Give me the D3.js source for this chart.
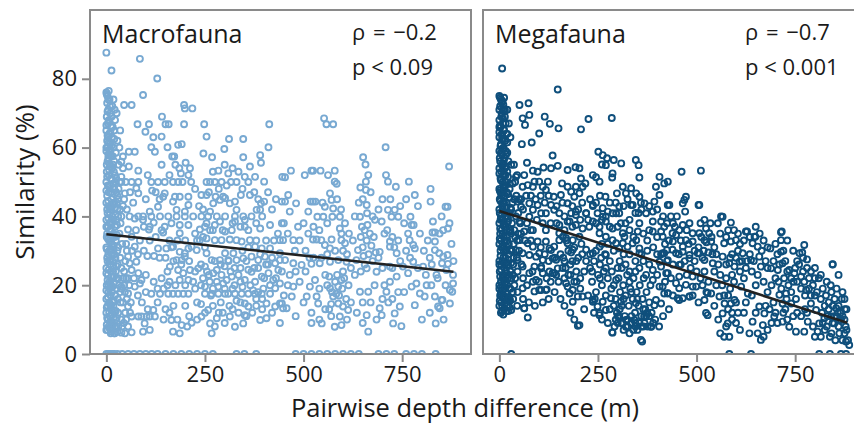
<!DOCTYPE html>
<html>
<head>
<meta charset="utf-8">
<script src="https://cdn.jsdelivr.net/npm/d3@7"></script>
<style>
  html, body { margin: 0; padding: 0; background: #fff; }
  svg { display: block; font-family: 'Open Sans', sans-serif; }
</style>
</head>
<body>
<svg id="chart" width="854" height="427"></svg>
<script>
// x: pairwise depth difference (m), y: similarity (%)
const xTicks = [0, 250, 500, 750];
const yTicks = [0, 20, 40, 60, 80];

// --- Macrofauna ---
const macroColumn = [
  [0,76],[3,75],[6,76.5],[2,73],[8,74],[5,71],[1,69],[10,70],[4,67],[12,66],[0,65],[7,64],[14,63],[2,62],[9,61],
  [18,60],[0,59],[5,58],[12,57.5],[3,56],[20,56],[8,55],[15,54],[1,53],[6,52],[22,52],[11,51],[0,50],[17,49.5],
  [4,49],[9,48],[25,47],[2,46],[13,45],[0,44],[19,44],[6,43],[10,42],[3,41],[23,40.5],[15,40],[0,39],[8,38],
  [27,37.5],[4,37],[12,36],[18,35],[1,34],[7,33],[24,33],[14,32],[0,31],[10,30],[5,29],[20,29],[2,28],[16,27],
  [9,26],[26,25.5],[0,25],[12,24],[4,23],[20,22.5],[8,21],[1,20],[15,19.5],[26,19],[5,18],[11,17],[0,16],
  [19,15.5],[7,15],[3,14],[14,13],[24,12.5],[0,12],[9,11],[18,10.5],[4,10],[13,9],[1,8.5],[22,8],[8,7.5],[16,7],
  [3,7],[28,6.5],[11,6],[6,68],[15,72],[3,60],[10,58],[6,47],[14,38],[2,35],[8,27],[17,24],[10,14],[5,63],
  [12,43],[20,65],[6,20],[30,45],[28,30],[32,20],[30,12],[35,28],[35,18],[42,15],[38,10],[48,12],[30,22],
  [45,20],[52,16],[40,8],[50,22],
  [1,75.5],[5,74],[9,72],[3,70.5],[13,69],[7,67.5],[0,66.5],[16,66],[10,64.5],[3,63.5],[20,62.5],[6,61.5],
  [13,60.5],[0,60],[9,59.5],[24,58.5],[16,57.5],[5,57],[1,55],[11,54.5],[19,53],[7,53.5],[25,51],[14,50.5],
  [2,51.5],[8,49],[20,48],[0,47.5],[12,47],[28,46],[5,44.5],[16,43.5],[22,42.5],[2,42],[9,41],[30,40],[17,39],
  [5,39.5],[12,38.5],[0,37],[22,37],[8,36],[15,34.5],[27,34.5],[4,33.5],[11,32.5],[19,31.5],[1,30.5],[30,31],
  [7,30],[14,29],[23,28],[3,27],[10,27],[18,25.5],[0,23.5],[6,24.5],[13,22.5],[25,22],[3,21.5],[10,20.5],
  [19,20.5],[0,18.5],[8,19],[14,18],[22,17],[4,16.5],[29,16],[16,15],[10,14.5],[1,13.5],[20,12.5],[7,12],
  [13,11.5],[26,10.5],[2,10.5],[10,9.5],[17,8.5],[6,8],[0,7],[25,7.5],[13,6.5],[20,6],[36,38],[34,50],[38,25],
  [33,60],[40,32],[36,15],[42,43],[44,22],[31,55],[35,65],[26,70],[18,74],[22,68],[28,62],[31,48],[35,42],
  [29,26],[33,35],[39,19],[44,9],[50,10],[55,8],[60,12],[58,20],[62,15],[48,27],[52,30],[42,54],[47,18],
  [20,44],[25,39],[28,42],[21,71],[17,55],[24,50],[26,44],[21,34],[16,30],[24,24],[12,20],[18,14],[23,10]
];

const macroLeft = [
  [0,87.6],[85,85.8],[13,82.4],[129,80.1],[93,75.3],[45,72.4],[64,72.4],[197,72.4],[199,71.4],[218,71.4],
  [141,69],[79,66.8],[108,66.8],[150,66.8],[158,66.8],[197,66.8],[248,66.8],[413,66.8],[99,64.6],[119,63],
  [140,63.2],[254,63.2],[311,62.5],[347,62.5],[411,60.1],[114,60.1],[123,58.8],[155,60.1],[182,60.8],[191,61],
  [299,59.6],[57,58.8],[72,58.8],[246,58.3],[167,57.4],[172,57.4],[268,57.2],[347,57.2],[390,57.8],[42,57.4],
  [38,55.9],[201,55.6],[392,55.6],[57,54.5],[364,54.5],[212,54],[284,53.3],[208,52],[189,52.5],[81,53.3],
  [309,52.5],[351,51.5],[377,51.5],[400,50.1],[446,51.5],
  [38,50],[49,50],[64,50],[81,50],[114,50],[131,50],[148,50],[169,50],[182,50],[193,50],[254,50],[263,50],
  [275,50],[292,50],[316,50],[330,50],
  [38,51.5],[47,46.7],[76,48.2],[81,46.7],[116,47.5],[148,46.7],[144,45.7],[174,45.7],[186,45.7],[208,45.7],
  [241,46.2],[254,46.2],[277,45.7],[296,45.7],[313,43.8],[341,46.2],[364,46.2],[392,43.8],[400,44.3],[445,44.3],
  [271,43.8],[288,44.8],[301,45.3],[326,44.3],[169,44.3],[208,43.3],
  [38,40],[59,40],[81,40],[93,40],[114,40],[136,40],[157,40],[178,40],[199,40],[220,40],[241,40],[258,40],
  [280,40],[301,40],[326,40],[347,40],[368,40],
  [131,42.8],[110,41.4],[178,41.9],[199,41.4],[263,41.4],[330,41.9],[381,41.9],[390,41.9],[351,39],[415,37.5],
  [326,38.5],[288,38.5],[275,37.5],[254,38],[208,37.5],[186,37.5],[165,38],[148,37],[120,38.2],[110,37],[93,39],
  [72,39.4],[55,36.2],[108,36.2],[144,35.3],[186,35.1],[237,36.2],[250,37],[263,36],[301,35.6],[318,36],[351,37],
  [390,36.5],[445,38],
  [237,33.1],[254,33.6],[275,33.1],[292,33.1],[313,33.3],[330,33.1],[343,32.7],[364,33.1],[377,31.2],[394,30.7],
  [415,30.7],[440,33.1],[64,34.1],[72,31.2],[131,30.7],[152,30.7],[169,31.2],[186,29.7],[199,28.3],[208,30.7],
  [216,31.2],[229,30.2],[104,28.5],[121,28.5],[55,28.3],[59,26.4],[76,26.8],[178,27.3],[191,27.3],[199,29.3],
  [254,29.3],[267,27.3],[288,27.3],[301,29.3],[309,27.3],[322,29.3],[330,27.3],[347,27.8],[368,28.3],[385,27.3],
  [402,28.3],[428,26.4],[440,27.3],
  [64,24.4],[81,23.5],[89,21.5],[72,19.6],[161,25.4],[182,24.4],[195,23.5],[212,24.4],[233,24.9],[186,21.5],
  [208,21.5],[250,25.4],[271,23.5],[280,24.4],[292,23],[305,21.5],[296,20.5],[318,22.5],[335,23],[351,21.5],
  [368,23.9],[377,21],[394,22.5],[411,23.5],[423,21.5],[436,24.4],[440,20.5],
  [114,17.5],[136,17.5],[157,17.5],[169,17.5],[182,17.5],[195,17.5],[208,17.5],[250,17.5],[267,17.5],[284,17.5],
  [301,17.5],[309,17.5],[326,17.5],[343,17.5],[360,17.5],[377,17.5],[394,17.5],[415,17.5],
  [38,19.6],[55,17.6],[85,20.5],[250,19.6],[284,19.6],[351,14.7],[360,13.8],[406,14.7],[428,13.8],[445,14.7],
  [428,19.1],
  [64,10.9],[81,10.9],[89,10.9],[102,10.9],[110,10.9],[123,10.9],[165,9.9],[169,6.5],[186,6],[191,8.4],[216,9.1],
  [241,10.9],[258,12.8],[263,8.9],[267,6],[280,10.4],[313,10.9],[326,7.9],[347,8.9],[351,11.3],[390,9.9],
  [406,10.4],[93,6.5],[110,7],[55,13.8],[119,12.8],[97,8.9],[30,7.9],[21,6],[38,6.2],[47,6],[64,6.3],
  [255,24],[262,21],[270,19],[245,22],[300,25.5],[315,24],[325,20],[340,25],[345,19.5],[360,24.5],[372,18.5],
  [385,25],[398,19],[405,26],[330,15.5],[312,14],[290,15],[270,14],[240,14.5],[225,19],[230,15],[160,21],
  [140,22],[120,21],[100,23],[170,14],[150,13],[200,14],[210,11],[285,12],[300,9],[335,12],[370,12],[380,16],
  [395,13],
  [45,45],[52,42],[60,47],[68,44],[75,36],[85,33],[95,37],[100,45],[105,52],[125,47],[135,45],[140,55],[160,52],
  [175,55],[185,54],[215,50],[225,48],[235,43],[245,42],[260,47],[270,53],[285,48],[300,55],[305,49],[320,54],
  [335,53],[345,48],[360,50],[375,47],[385,45],[410,47],[420,42],[430,45],[435,35],[425,33],[405,33],[395,40],
  [380,38],[360,36],[340,37],[320,38],[295,36],[270,36],[245,34],[225,35],[200,33],[180,33],[160,33],[140,36],
  [125,34],[110,33],[95,30],[80,29],[65,30],[50,32],[45,24],[55,22],[70,22],[80,17],[90,15],[100,18],[105,13],
  [130,15],[145,19],[155,24],[170,27],[190,26],[210,27],[225,24],[240,26],[260,23],[275,27],[290,26],[310,27],
  [325,25],[355,27],[375,25],[390,29],[410,26],[420,28],[430,22],[415,20],[400,22],[385,18],[365,20],[340,21],
  [320,19],[300,19],[280,21],[265,17],[240,20],[220,21],[200,20],[175,20],[155,20],[130,19],[145,10],[160,12],
  [180,10],[205,8],[230,10],[250,12],[275,8],[295,12],[320,13],[340,15],[355,11],[380,14],[395,16],[420,12],
  [440,9],[345,30],[360,31],[380,33],[250,31],[230,33],[165,31],[150,28],[135,28]
];

const macroRight = [
  [552,68.5],[558,66.8],[575,66.8],[708,60.1],[651,57.2],[657,55.1],[869,54.5],[468,53.3],[453,51.4],[503,52],
  [520,53.3],[524,53.3],[543,53.3],[562,52],[579,53.3],[579,50.1],[584,49.5],[664,52],[658,50.1],[644,48.4],
  [658,47.7],[709,52],[714,50.1],[734,48.6],[767,50.1],[782,46.2],[822,48],[822,44.3],[860,42.8],[865,42.8],
  [461,46.2],[481,43.8],[453,44.3],[465,41.4],[518,44.3],[524,44.3],[530,44.3],[554,42.8],[575,42.3],[571,44.8],
  [567,46.7],[512,41.4],[535,39.9],[550,39.9],[573,39.9],[592,39.9],[643,39.9],[660,43.3],[661,40.9],[681,39],
  [698,38.5],[714,41.9],[723,39.9],[740,39.9],[731,41.9],[720,45],[771,39.9],[774,37.5],[779,37.5],[828,38.5],
  [854,36],[866,36.5],[827,35.3],[833,35.3],[833,32.7],
  [645,34],[650,31],[655,36],[660,33],[665,29],[668,35],[672,31.5],[678,34],[683,29.5],[652,28.5],[662,37.5],
  [648,37],[725,34],[730,31],[712,36],[740,33],
  [592,36.5],[596,35],[596,33.1],[571,33.3],[533,33.3],[524,33.3],[512,35],[486,37],[474,33.1],[448,33.1],
  [545,33.1],[554,31.7],[567,30.7],[605,32.2],[638,30.2],[693,29.7],[719,31.2],[736,29.3],[719,32.7],[769,33.1],
  [778,31.7],[782,30.7],[833,30.2],[844,29.3],[854,28.3],[865,28.8],[866,26.2],[851,26.4],[862,24.4],[879,23],
  [879,20.5],[877,18.1],[871,14.7],[850,15.7],[841,13.8],[835,8.9],[845,13.3],
  [440,29.3],[453,27.3],[474,26.4],[495,25.9],[520,26.2],[541,26.4],[567,26.8],[588,27.3],[609,26.8],[634,27.3],
  [660,24.9],[685,23.9],[719,25.4],[752,25.4],[778,26.8],[803,25.4],
  [465,23],[474,19.6],[470,16.7],[440,14.7],[448,13.3],[457,13.3],[508,16.7],[533,16.7],[529,21.5],[516,19.6],
  [537,14.7],[546,8.9],[567,19.1],[575,16.7],[588,19.6],[596,21.5],[588,14.7],[600,13.8],[613,12.8],[592,10.9],
  [579,7.9],[596,8.4],[643,18.1],[664,18.1],[660,11.3],[664,6.5],[693,13.3],[698,11.3],[710,18.1],[719,21],
  [736,22.5],[731,11.8],[744,13.8],[727,8.9],[748,8.1],[765,23.5],[774,19.6],[786,20.5],[795,17.6],[782,14.2],
  [807,16.7],[824,20],[833,16.7],[812,20],[837,23],[852,15.7],[871,18.6],
  [560,20],[565,22.5],[572,18],[580,21],[585,23],[590,17],[598,19],[603,22],[608,16],[614,20],[570,14.5],
  [583,17.5],[600,24],[555,23],
  [450,38],[460,35],[478,30],[490,33],[500,38],[505,30],[515,28],[525,37],[540,36],[548,44],[560,38],[585,45],
  [595,42],[605,38],[615,35],[625,33],[630,40],[640,44],[650,45],[670,47],[675,40],[690,42],[700,45],[705,35],
  [700,25],[690,28],[675,27],[655,26],[645,24],[630,23],[620,25],[610,29],[600,30],[580,30],[560,29],[545,28],
  [525,28],[505,24],[490,21],[480,24],[460,20],[450,17],[445,24],[500,15],[520,12],[540,19],[555,13],[570,11],
  [620,15],[635,12],[650,15],[670,15],[680,20],[705,20],[715,15],[725,25],[745,27],[760,30],[765,35],[755,38],
  [745,43],[760,45],[790,43],[795,35],[805,30],[815,33],[820,28],[810,23],[825,26],[840,22],[845,35],[850,40],
  [870,38],[875,32],[880,27],[860,20],[855,10],[820,12],[800,10],[790,25],[770,28],[755,18],[740,18],[725,16],
  [700,16],[685,10],[650,9],[610,10],[565,13],[540,10],[520,9],[480,11]
];

// pairs with no shared taxa
const macroZeroX = [
  0,5,10,15,20,28,40,55,70,85,100,115,130,150,170,190,210,230,250,270,330,350,380,480,500,520,540,560,580,
  600,620,640,690,710,730,760,780,800,835
];

// --- Megafauna ---
const megaColumn = [
  [0,75],[4,74],[8,73.5],[12,74.5],[2,72],[10,71],[6,70],[14,69],[0,68],[9,67],[3,66],[12,65],[18,64],[0,63],
  [7,62.5],[15,62],[4,61],[10,60],[0,59],[20,58.5],[6,58],[13,57],[2,56],[9,55],[17,54.5],[0,54],[5,53],[12,52],
  [22,51.5],[3,51],[8,50],[15,49],[0,48],[10,47.5],[19,47],[5,46],[25,45.5],[1,45],[12,44],[7,43],[18,42.5],
  [0,42],[14,41],[4,40],[22,39.5],[9,39],[0,38],[16,37],[6,36],[26,35.5],[2,35],[11,34],[20,33],[0,32],[7,31],
  [15,30.5],[3,30],[24,29],[10,28],[0,27],[18,26.5],[5,26],[13,25],[28,24],[1,24],[9,23],[21,22],[4,21],
  [14,20.5],[0,20],[25,19],[8,18.5],[17,18],[2,17],[11,16],[27,15.5],[5,15],[19,14],[0,14],[12,13],[7,12.5],
  [23,12.5],[6,64],[16,59],[3,47],[12,38],[18,30],[8,22],[16,52],[20,40],[26,48],[30,42],[28,36],[32,30],
  [30,22],[34,18],[4,33],[14,71],[9,44],[22,26],[38,45],[42,40],[36,32],[44,28],[40,22],[46,18],[35,26],
  [48,35],[40,50],[46,24],
  [2,74.5],[6,73],[10,72.5],[0,71],[13,70.5],[5,69],[9,68.5],[16,67],[2,66.5],[11,65.5],[0,64.5],[7,63.5],
  [14,62.5],[20,61.5],[3,60.5],[9,59.5],[17,58],[1,57],[11,56],[23,56],[6,55],[14,54],[0,52.5],[20,53],[9,52],
  [4,50.5],[17,50],[26,49.5],[11,49],[1,47.5],[7,47],[22,46.5],[14,46],[3,44.5],[18,44],[9,42],[28,42.5],[1,41],
  [15,40],[6,39],[22,38.5],[11,37.5],[2,36.5],[18,36],[30,35],[8,35],[14,33],[24,32],[1,33.5],[6,31],[19,31],
  [11,30],[28,30],[3,28.5],[15,28],[22,27.5],[8,27],[0,26],[12,26],[30,26.5],[5,24.5],[17,24],[24,23],[2,22.5],
  [11,22],[7,20],[20,20],[0,19],[14,19],[28,19],[4,17.5],[10,17],[22,16.5],[16,15.5],[1,15.5],[7,14],[13,14.5],
  [26,13.5],[4,12],[18,12.5],[10,11.5],[0,66],[4,58.5],[12,48],[25,41],[32,38],[36,28],[38,20],[34,23],[40,34],
  [43,46],[37,55],[30,55],[28,63],[24,67],[20,71],[35,16],[45,14],[50,30],[53,38],[56,26],[48,41],[60,22],
  [55,45],[45,52],[33,44],[27,36],[19,34],[16,21],[13,37],[26,16],[20,64],[8,44],[3,39]
];

const megaLeft = [
  [7,83],[148,76.9],[51,72.4],[74,72.9],[59,68.5],[76,69.5],[65,66.6],[115,69],[128,66.9],[150,65.6],[101,64.1],
  [82,61.5],[57,61],[226,68.3],[285,68.6],[207,65.3],[135,57.7],[70,55.6],[85,53.3],[97,53],[112,54.2],[131,54],
  [148,54.7],[173,53.5],[193,54.3],[203,54],[251,58.8],[262,57.8],[273,56.9],[260,55.1],[270,54.9],[290,56.4],
  [309,55.4],[287,52.5],[286,51.3],[346,56.4],[353,54.9],[355,51.3],[237,52],[245,51.4],[254,50.1],[207,51],
  [218,49.6],[63,52],[42,51.5],[34,49.6],[72,49.1],[89,50.1],[101,50.1],[123,50.1],[110,48.6],[159,49.6],
  [173,48.6],[182,47.2],[194,48.6],[211,48.6],[203,46.7],[190,45.7],[156,46.2],[138,45.7],[118,47.7],[85,48.6],
  [59,48.6],[313,48.6],[334,48.2],[347,46.7],[355,45.7],[321,46.7],[298,46.7],[269,45.7],[406,51.5],[418,49.6],
  [397,48.6],[406,46.2],[427,43.3],[393,44.3],[368,43.8],[334,43.3],
  [46,44.3],[55,42.8],[76,43.8],[85,41.9],[97,43.3],[118,40.9],[131,43.3],[139,41.9],[152,40.9],[173,43.8],
  [182,40.9],[194,41.4],[220,40.9],[237,43.3],[249,40.9],[262,39.9],[275,41.4],[287,40.9],[304,40.9],[330,39],
  [353,41],[372,40.9],[389,41.4],[76,39.9],[106,40.9],[237,38.5],[228,37],[254,37],[270,38.5],[287,36.5],
  [173,38.5],[194,37.5],[211,36.5],[152,37.5],[51,38.5],[38,36],[63,35.6],[85,36],[118,36],[380,36],[410,35.6],
  [389,38.5],[410,38.5],[418,37],[313,35.1],[351,35.6],
  [254,35.1],[270,34.1],[287,33.1],[313,32.2],[325,31.2],[347,33.1],[355,30.7],[203,34.1],[186,33.1],[173,32.2],
  [161,34.1],[152,33.1],[139,31.2],[131,30.2],[118,32.7],[97,32.7],[85,31.2],[72,32.2],[51,33.1],[42,30.2],
  [59,29.3],[76,28.8],[93,28.3],[101,29.3],[110,27.3],[127,30.7],
  [46,27.3],[59,25.4],[76,23.5],[89,25.4],[106,25.4],[110,23.5],[135,27.8],[148,24.9],[135,23.5],[144,23],
  [173,19.6],[178,17.6],[186,15.2],[211,16.7],[203,8.4],[93,21.5],[59,19.1],[106,18.6],[118,18.6],[63,13.3],
  [72,10.6],[30,12.8],[4,18.1],[13,16.7],[21,15.7],[237,15.2],[249,13.8],[262,15.2],[254,11.3],[270,12.8],
  [283,16.2],[287,6.2],[304,10.9],[313,8.9],[321,7.9],[330,6],[342,9.9],[362,3.6],[372,10.9],[385,7.9],
  [393,14.2],[410,14.7],[418,17.6],[406,19.6],[389,21.5],[372,23],[389,24.4],[410,25.4],[423,23.5],[427,27.3],
  [418,29.3],[406,26.8],
  [162,28],[168,25],[175,30],[180,23],[185,27],[190,31],[195,24],[200,28],[205,22],[208,32],[170,33],[196,21],
  [182,29.5],[165,22],
  [230,25],[235,21],[240,27],[245,18],[250,23],[255,26],[260,20],[265,24],[270,17],[275,22],[280,27],[284,19],
  [242,16],[258,28],[268,29],
  [290,20],[295,16],[298,12],[302,22],[306,18],[310,14],[314,20],[318,11],[320,17],[324,23],[328,14],[332,19],
  [335,9],[338,16],[340,22],[344,12],[348,18],[350,7],[353,14],[356,20],[360,11],[363,16],[366,22],[370,13],
  [373,18],[376,8],[380,15],[383,20],[386,12],[300,9],[315,7],[345,9],[365,8],[330,24],[355,25],[310,25],
  [292,8],[340,7],
  [173,43.8],[237,43],[262,42.4],[304,42.9],[338,43.3],[359,44],[431,43.3],[507,43.3],[178,38.5],[194,40.4],
  [220,40.9],[270,40],[296,40.9],[308,38],[355,38],[389,35.6],[414,34.1],[439,35.1],[490,35.1],[507,35.1],
  [152,35.1],[169,33.7],[186,30.3],[220,30.3],[237,29.3],[254,31.2],[270,28.8],[296,32.2],[317,34.1],
  [338,32.2],[355,29.3],[304,30.7],[414,29.3],[439,30.3],[465,31.2],[482,27.8],[456,25.9],[507,29.3],
  [25,16.2],[63,13.3],[89,18.2],[101,18.6],[120,18.8],[84,24],[106,24.9],[127,24],[139,23.5],[144,27.4],
  [169,20.6],[186,18.6],[199,16.7],[199,8.2],[237,15.7],[254,11.9],[286,6.3],[296,21.5],[308,15.2],[321,9.9],
  [346,14.8],[359,4.1],[367,10.9],[384,8],[397,15.7],[414,19.6],[427,17.7],[456,15.7],[482,16.7],[524,11.9],
  [528,17.7],[490,19.6],[448,20.6],[456,22.5],[490,22.5],
  [50,45],[60,42],[68,46],[80,46],[92,45],[105,46],[115,44],[125,46],[145,43],[160,44],[165,40],[185,43],
  [200,42],[210,44],[230,45],[245,44],[255,46],[280,44],[295,44],[315,43],[325,45],[345,41],[360,42],[380,43],
  [400,42],[415,40],[425,38],[435,40],[445,37],[430,33],[420,32],[400,34],[375,33],[365,35],[340,34],[330,36],
  [320,38],[300,37],[280,37],[260,39],[245,38],[225,39],[205,39],[185,37],[165,36],[145,38],[130,38],[110,38],
  [95,39],[80,36],[70,38],[55,35],[45,33],[65,33],[80,33],[105,31],[115,29],[125,27],[140,28],[155,29],
  [165,27],[180,26],[195,27],[210,29],[220,27],[230,29],[245,30],[260,32],[275,32],[290,30],[305,27],[315,29],
  [330,29],[345,27],[360,29],[375,30],[390,31],[400,29],[410,29],[425,27],[440,26],[435,22],[420,21],[400,23],
  [380,26],[365,27],[345,24],[320,26],[300,25],[285,24],[270,25],[255,22],[235,24],[215,24],[205,19],[190,21],
  [175,23],[160,25],[150,21],[130,21],[120,22],[100,21],[85,21],[70,20],[60,16],[75,15],[90,14],[110,15],
  [125,16],[140,18],[155,16],[165,14],[180,12],[190,10],[215,13],[225,17],[240,12],[260,10],[275,9],[280,13],
  [300,11],[310,9],[325,8],[335,11],[355,9],[368,9],[375,12],[390,9],[395,10],[405,8],[415,11],[430,13],[440,17],
  [290,14],[305,13],[325,10],[345,8],[360,8],[380,11],[295,10],[335,18],[350,16],[365,13],[330,21],[315,16]
];

const megaRight = [
  [462,53],[511,53.3],[427,50.1],[469,44.8],[473,45.7],[471,41.4],[505,43.3],[566,39.9],[554,38],[587,38.2],
  [482,38],[465,37.5],[456,36],[448,34.6],[440,32.7],[473,33.1],[490,32.7],[524,36.5],[532,35.1],[520,33.1],
  [537,32.7],[570,32.2],[587,32.7],[600,33.1],[628,35.6],[647,34.1],[642,32.2],[655,31.2],[687,30.7],[716,35.6],
  [714,33.1],[714,29.7],[773,31.7],[761,29.3],[768,29.5],[780,27.5],[845,26.1],[465,43.8],[562,40],[625,35.6],
  [649,34.1],[714,35.4],
  [505,31],[512,34],[518,30],[525,32.5],[530,29.5],[538,34],[545,31],[550,29],[515,28],
  [425,30.2],[448,29.3],[465,29.7],[482,28.8],[503,29.3],[520,27.3],[541,26.4],[566,28.3],[583,26.4],[617,29.3],
  [609,26.8],[596,25.4],[638,27.3],[659,28.3],[663,25.4],[689,24.9],[706,24.4],[718,26.4],[735,24.4],[748,23.5],
  [765,22.5],[773,21],[778,18.6],
  [427,23.5],[427,17.6],[452,16.2],[465,16.2],[482,16.7],[456,19.1],[473,20.1],[499,19.6],[520,15.7],[528,11.3],
  [537,17.6],[558,16.7],[571,14.7],[566,11.8],[579,8.9],[583,5],[587,14.7],[596,15.7],[613,19.6],[630,17.6],
  [642,9.4],[634,6],[659,13.8],[668,8.4],[663,4.1],[680,7],[672,11.8],[697,10.9],[710,17.2],[718,14.7],
  [727,17.6],[740,14.7],[735,7.9],[718,9.4],[752,6.5],[773,6.5],[782,9.4],[790,14.7],[803,12.8],[811,8.9],
  [807,6.5],[824,10.4],[841,10.9],[849,8.9],[854,13.3],[866,9.9],[875,6],[879,3.6],[887,2.6],
  [565,20],[570,17],[575,22],[580,13],[585,19],[590,10],[595,21],[600,15],[605,12],[575,8],[590,23],
  [708,21],[715,19],[722,22],[728,16],[733,20],[740,18],[746,21],[752,16],[725,13],
  [818,12],[825,7],[832,11],[838,5],[845,9],[852,4],[858,12],[862,6],[870,11],[878,8],[884,4],
  [600,28],[610,24],[620,22],[628,27],[640,24],[650,20],[655,23],[670,21],[680,18],[690,20],[700,22],[760,26],
  [770,24],[785,22],[795,20],[800,25],[810,22],[820,19],[828,17],[835,15],[842,18],[850,16],[860,14],[868,16],
  [800,17],
  [455,29],[470,27],[485,25],[495,27],[500,24],[510,22],[520,24],[530,21],[545,24],[555,26],[560,23],[575,26],
  [585,28],[590,29],[605,30],[615,27],[625,25],[635,29],[645,27],[665,30],[675,27],[680,25],[695,27],[705,29],
  [710,26],[725,27],[730,24],[740,22],[750,25],[755,21],[765,19],[775,17],[785,19],[790,17],[805,18],[815,16],
  [825,14],[835,13],[845,14],[855,11],[865,12],[875,10],[880,7],[460,26],[475,23],[490,17],[505,15],[515,20],
  [525,18],[545,14],[550,20],[555,10],[560,6],[570,5],[580,17],[590,12],[600,9],[610,7],[620,12],[625,15],
  [640,17],[650,12],[655,6],[670,5],[675,14],[685,13],[690,9],[695,15],[700,12],[705,9],[720,12],[730,10],
  [745,11],[755,12],[765,11],[775,13],[780,12],[795,8],[800,5],[815,5],[820,9],[830,8],[842,6],[850,11],
  [860,8],[870,4],[876,13],[440,38],[450,40],[460,33],[475,36],[480,32],[495,30],[510,38],[520,39],[535,38],
  [540,29],[560,35],[575,34],[580,36],[595,36],[605,35],[610,32],[620,33],[635,34],[650,37],[660,35],[670,33],
  [680,31],[700,32],[720,30],[730,33],[745,30],[755,27],[770,28],[780,25],[790,24],[800,22],[815,23],[830,21],
  [840,20],[855,19],[870,18],[860,23],[845,26],[875,16],[880,13]
];

const megaZeroX = [30, 583, 638, 811, 838, 866, 879];

// fitted regression lines (end points)
const macroFit = [[0, 34.8], [880, 23.9]];
const megaFit = [[0, 41.6], [882, 9.1]];

const panels = [
  {
    title: 'Macrofauna', rho: 'ρ = −0.2', p: 'p < 0.09', color: '#78a9d2',
    points: macroColumn.concat(macroLeft, macroRight, macroZeroX.map((x) => [x, 0])),
    fit: macroFit,
  },
  {
    title: 'Megafauna', rho: 'ρ = −0.7', p: 'p < 0.001', color: '#0f4f7c',
    points: megaColumn.concat(megaLeft, megaRight, megaZeroX.map((x) => [x, 0])),
    fit: megaFit,
  },
];

const FRAME = '#8a8a8a';
const TEXT = '#1a1a1a';
const panelW = 381;
const panelH = 344;
const panelTop = 10;
const panelLefts = [90, 483];

const svg = d3.select('#chart');

const x = d3.scaleLinear().domain([-41.5, 924.5]).range([0, panelW]);
const y = d3.scaleLinear().domain([0, 100]).range([panelH, 0]);

function styleAxis(axisG) {
  axisG.select('.domain').remove();
  axisG.selectAll('line').attr('stroke', FRAME).attr('stroke-width', 2);
  axisG.selectAll('text')
    .attr('fill', TEXT)
    .style('font-size', '22px')
    .style('font-family', "'Open Sans', sans-serif");
}

function drawPanel(panel, i) {
  const g = svg.append('g')
    .attr('transform', `translate(${panelLefts[i]}, ${panelTop})`);

  g.append('clipPath')
    .attr('id', `clip${i}`)
    .append('rect')
    .attr('width', panelW)
    .attr('height', panelH);

  g.append('g')
    .attr('clip-path', `url(#clip${i})`)
    .selectAll('circle')
    .data(panel.points)
    .join('circle')
    .attr('cx', (d) => x(d[0]))
    .attr('cy', (d) => y(d[1]))
    .attr('r', 3)
    .attr('fill', 'none')
    .attr('stroke', panel.color)
    .attr('stroke-width', 1.9);

  g.append('line')
    .attr('x1', x(panel.fit[0][0]))
    .attr('y1', y(panel.fit[0][1]))
    .attr('x2', x(panel.fit[1][0]))
    .attr('y2', y(panel.fit[1][1]))
    .attr('stroke', '#222')
    .attr('stroke-width', 2.6);

  const xAxis = g.append('g')
    .attr('transform', `translate(0, ${panelH})`)
    .call(d3.axisBottom(x).tickValues(xTicks).tickSize(8).tickPadding(4).tickSizeOuter(0));
  styleAxis(xAxis);

  if (i === 0) {
    const yAxis = g.append('g')
      .call(d3.axisLeft(y).tickValues(yTicks).tickSize(8).tickPadding(5).tickSizeOuter(0));
    styleAxis(yAxis);
  }

  g.append('rect')
    .attr('width', panelW)
    .attr('height', panelH)
    .attr('fill', 'none')
    .attr('stroke', FRAME)
    .attr('stroke-width', 2);

  g.append('text')
    .attr('x', 12)
    .attr('y', 33)
    .attr('fill', TEXT)
    .style('font-size', '25px')
    .text(panel.title);

  g.append('text')
    .attr('x', 262)
    .attr('y', 30)
    .attr('fill', TEXT)
    .style('font-size', '22px')
    .style('word-spacing', '2px')
    .text(panel.rho);

  g.append('text')
    .attr('x', 262)
    .attr('y', 65)
    .attr('fill', TEXT)
    .style('font-size', '22px')
    .text(panel.p);
}

panels.forEach(drawPanel);

svg.append('text')
  .attr('x', 465)
  .attr('y', 417)
  .attr('text-anchor', 'middle')
  .attr('fill', TEXT)
  .style('font-size', '25.5px')
  .text('Pairwise depth difference (m)');

svg.append('text')
  .attr('transform', 'translate(34, 182) rotate(-90)')
  .attr('text-anchor', 'middle')
  .attr('fill', TEXT)
  .style('font-size', '26px')
  .text('Similarity (%)');
</script>
</body>
</html>
